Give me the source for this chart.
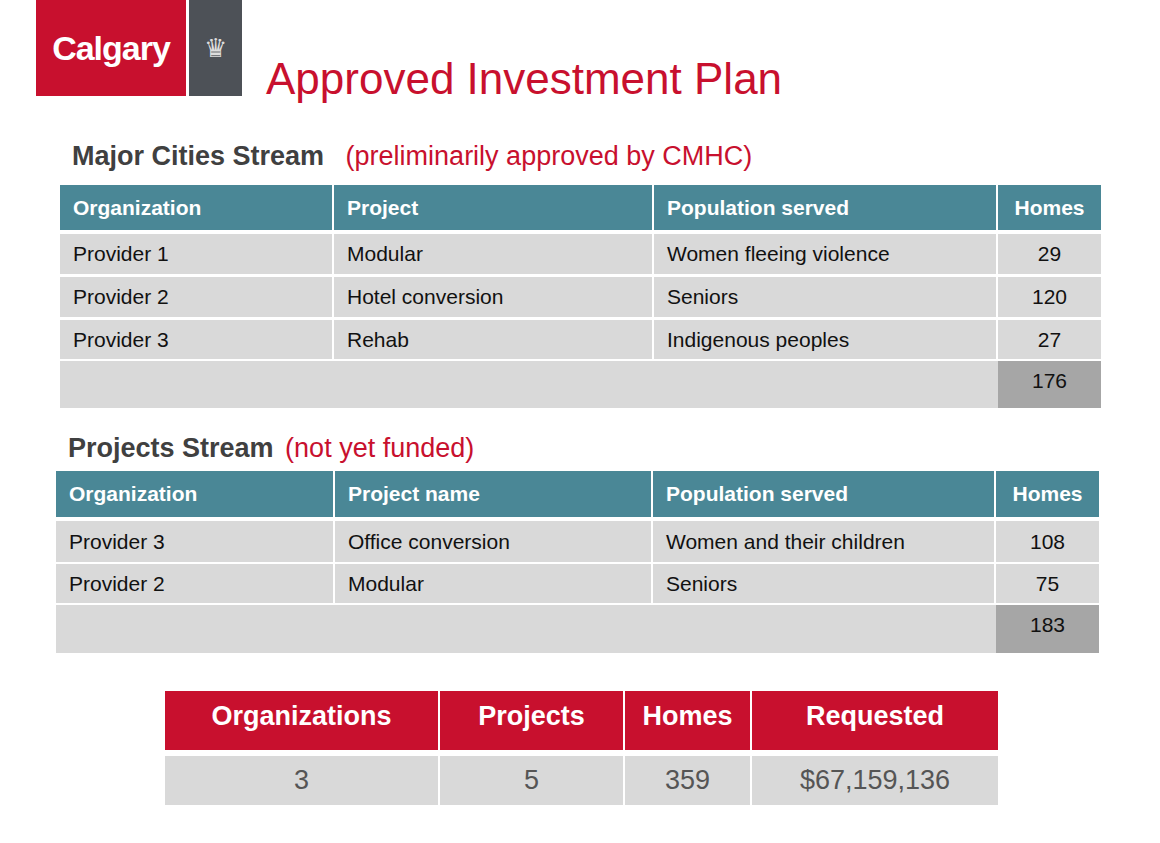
<!DOCTYPE html><html><head><meta charset="utf-8">
<script src="https://cdn.jsdelivr.net/npm/chart.js@4/dist/chart.umd.min.js"></script>
<style>
body{margin:0;width:1160px;height:843px;background:#fff;font-family:"Liberation Sans",Arial,sans-serif;position:relative;overflow:hidden}
.a{position:absolute;box-sizing:border-box}
.c{position:absolute;box-sizing:border-box;display:flex;align-items:center;font-size:21px;color:#111;padding-left:13px}
</style></head><body>
<div class="a" style="left:36px;top:0;width:150px;height:96px;background:#c8102e;color:#fff;font-weight:bold;font-size:34px;display:flex;align-items:center;justify-content:center;letter-spacing:-1px">Calgary</div>
<div class="a" style="left:189px;top:0;width:53px;height:96px;background:#4d5157;color:#ddd;font-size:26px;display:flex;align-items:center;justify-content:center">♛</div>
<div class="a" style="left:266px;top:54px;font-size:44px;color:#c8102e">Approved Investment Plan</div>
<div class="a" style="left:72px;top:141px;font-size:27px;font-weight:bold;color:#404040">Major Cities Stream <span style="font-weight:normal;color:#c8102e;margin-left:14px">(preliminarily approved by CMHC)</span></div>
<div class="a" style="left:68px;top:433px;font-size:27px;font-weight:bold;color:#404040">Projects Stream <span style="font-weight:normal;color:#c8102e;margin-left:4px">(not yet funded)</span></div>
<div id="root"></div>
<script>
const headers1=["Organization","Project","Population served","Homes"];
const orgs1=["Provider 1","Provider 2","Provider 3"];
const projects1=["Modular","Hotel conversion","Rehab"];
const pops1=["Women fleeing violence","Seniors","Indigenous peoples"];
const homes1=[29,120,27];
const total1=176;
const headers2=["Organization","Project name","Population served","Homes"];
const orgs2=["Provider 3","Provider 2"];
const projects2=["Office conversion","Modular"];
const pops2=["Women and their children","Seniors"];
const homes2=[108,75];
const total2=183;
const sumHeaders=["Organizations","Projects","Homes","Requested"];
const sumValues=["3","5","359","$67,159,136"];

const root=document.getElementById('root');
function cell(x,y,w,h,txt,bg,st){const d=document.createElement('div');d.className='c';d.style.cssText+=`left:${x}px;top:${y}px;width:${w}px;height:${h}px;background:${bg};`+(st||'');d.textContent=txt;root.appendChild(d);}
function table(cols,hy,hh,rows,headers,data,total,ty,th){
  for(let i=0;i<4;i++){const [x,w]=cols[i];cell(x,hy,w,hh,headers[i],'#4a8796','color:#fff;font-weight:bold;'+(i==3?'justify-content:center;padding:0':''));}
  data.forEach((r,j)=>{const [y,h]=rows[j];r.forEach((v,i)=>{const [x,w]=cols[i];cell(x,y,w,h,v,'#d9d9d9',i==3?'justify-content:center;padding:0':'');});});
  cell(cols[0][0],ty,cols[3][0]-cols[0][0],th,'','#d9d9d9');
  cell(cols[3][0],ty,cols[3][1],th,String(total),'#a6a6a6','justify-content:center;padding:0;align-items:flex-start;padding-top:8px');
}
table([[60,272],[334,318],[654,342],[998,103]],185,45,[[234,40],[277,40],[320,39]],headers1,orgs1.map((o,i)=>[o,projects1[i],pops1[i],homes1[i]]),total1,361,47);
table([[56,277],[335,316],[653,341],[996,103]],471,46,[[521,41],[564,39]],headers2,orgs2.map((o,i)=>[o,projects2[i],pops2[i],homes2[i]]),total2,605,48);
const sc=[[165,273],[440,183],[625,125],[752,246]];
sumHeaders.forEach((h,i)=>cell(sc[i][0],691,sc[i][1],59,h,'#c8102e','color:#fff;font-weight:bold;font-size:27px;justify-content:center;padding:0;align-items:flex-start;padding-top:10px'));
sumValues.forEach((v,i)=>cell(sc[i][0],756,sc[i][1],49,v,'#d9d9d9','color:#555;font-size:27px;justify-content:center;padding:0'));
</script></body></html>
